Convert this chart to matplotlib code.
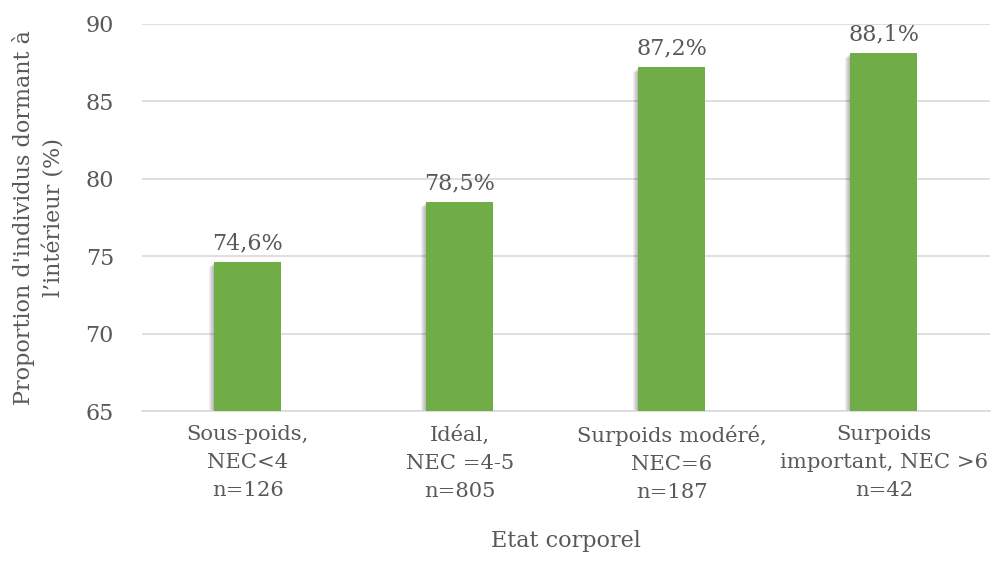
import matplotlib.pyplot as plt
import numpy as np

categories = ["Sous-poids,\nNEC<4\nn=126", "Idéal,\nNEC =4-5\nn=805",
              "Surpoids modéré,\nNEC=6\nn=187", "Surpoids\nimportant, NEC >6\nn=42"]
values = [74.6, 78.5, 87.2, 88.1]
labels = ["74,6%", "78,5%", "87,2%", "88,1%"]

plt.rcParams['font.family'] = ['DejaVu Serif']
txt = '#595959'
green = '#70ad47'
fs = 16

fig = plt.figure(figsize=(9.91, 5.71), dpi=100)
ax = fig.add_axes([0.143, 0.280, 0.856, 0.678])

x = np.arange(len(values))
w = 0.316
# soft shadow
for k in range(5):
    off = 0.005 * (k + 1)
    ax.bar(x - off, np.array(values) - 65, width=w, bottom=65 - 0.06 * (k + 1),
           color='black', alpha=0.06, zorder=2, linewidth=0)
ax.bar(x, np.array(values) - 65, width=w, bottom=65, color=green, zorder=3)

for xi, v, l in zip(x, values, labels):
    ax.text(xi, v + 0.5, l, ha='center', va='bottom', fontsize=fs, color=txt)

ax.set_xlim(-0.5, 3.5)
ax.set_ylim(65, 90)
ax.set_yticks([65, 70, 75, 80, 85, 90])
ax.set_xticks(x)
ax.set_xticklabels(categories, fontsize=15.2, color=txt, linespacing=1.6)
ax.tick_params(axis='y', labelsize=fs, labelcolor=txt, length=0, pad=20)
ax.tick_params(axis='x', length=0, pad=10)
ax.grid(axis='y', color='#d9d9d9', linewidth=1.2, zorder=0)
for s in ['top', 'right', 'left']:
    ax.spines[s].set_visible(False)
ax.spines['bottom'].set_color('#d9d9d9')
ax.spines['bottom'].set_linewidth(1.2)

ax.set_ylabel("Proportion d'individus dormant à\nl’intérieur (%)", fontsize=fs, color=txt,
              labelpad=14, linespacing=1.5)
ax.set_xlabel("Etat corporel", fontsize=fs, color=txt, labelpad=20)

fig.savefig('out.png', dpi=100)
